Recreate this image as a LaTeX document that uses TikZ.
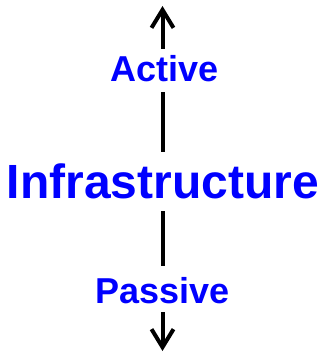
\documentclass[tikz,border=0pt]{standalone}
\usepackage{fontspec}
\setmainfont{Liberation Sans}
\usetikzlibrary{arrows.meta}
\definecolor{labelblue}{RGB}{0,0,255}
\begin{document}
\begin{tikzpicture}[x=1pt,y=-1pt,
  label text/.style={text=labelblue, inner sep=0pt, text depth=0pt, anchor=base},
  small label/.style={label text, font=\bfseries\fontsize{36}{40}\selectfont, text height=26pt},
  big label/.style={label text, font=\bfseries\fontsize{48}{52}\selectfont, text height=34pt},
  axis line/.style={line width=4pt, black},
  axis arrow/.style={axis line, -{Straight Barb[length=18pt,width=22pt]}}]
  \useasboundingbox (0,0) rectangle (324,355);
  \coordinate (top) at (162.5,6);
  \coordinate (bottom) at (162.5,351);
  \node[small label] (active) at (164.5,82) {Active};
  \node[big label] (infra) at (163,198) {Infrastructure};
  \node[small label] (passive) at (162.5,303) {Passive};
  \draw[axis arrow, shorten <=7pt] (active.north -| top) -- (top);
  \draw[axis line, shorten <=10pt, shorten >=12pt] (active.south -| top) -- (infra.north -| top);
  \draw[axis line, shorten <=13pt, shorten >=11pt] (infra.south -| top) -- (passive.north -| top);
  \draw[axis arrow, shorten <=9pt] (passive.south -| top) -- (bottom);
\end{tikzpicture}
\end{document}
